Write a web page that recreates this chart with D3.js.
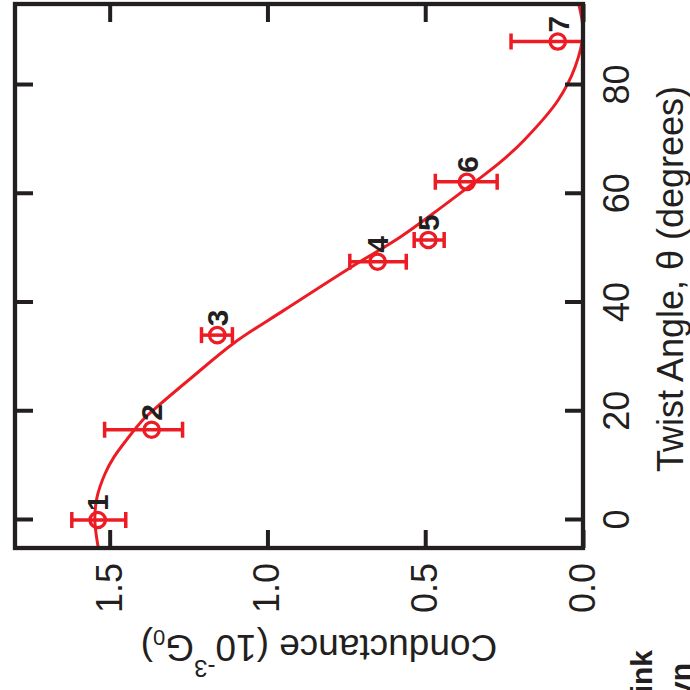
<!DOCTYPE html>
<html>
<head>
<meta charset="utf-8">
<script src="https://cdn.jsdelivr.net/npm/d3@7"></script>
<style>
  body { margin: 0; background: #fff; }
  text { font-family: "Liberation Sans", Arial, sans-serif; }
</style>
</head>
<body>
<div id="chart"></div>
<script>
const red = "#ed1c24";
const ink = "#231f20";

// junctions 1..7
const labels = ["1", "2", "3", "4", "5", "6", "7"];
const angles = [0, 16.6, 34.0, 47.5, 51.5, 62.2, 88.0];
const conductance = [1.538, 1.367, 1.159, 0.651, 0.490, 0.368, 0.080];
const upper = [1.620, 1.516, 1.209, 0.739, 0.535, 0.468, 0.228];
const lower = [1.449, 1.269, 1.111, 0.560, 0.440, 0.272, -0.070];

// fit line
const fitAngle = [-5.15, 0, 4.2, 8.6, 11.6, 14.7, 18.4, 20.8, 26.3, 32.6, 38.6, 46.5, 52, 57.4, 62.5, 65.8, 69.9, 77.2, 83.3, 89.6, 95];
const fitG = [1.536, 1.547, 1.540, 1.514, 1.486, 1.447, 1.395, 1.350, 1.238, 1.105, 0.947, 0.735, 0.580, 0.451, 0.335, 0.262, 0.186, 0.079, 0.025, 0.0, 0.014];

const angleTicks = [0, 20, 40, 60, 80];
const gTicks = [0, 0.5, 1.0, 1.5];

const W = 544, H = 568;

const svg = d3.select("#chart").append("svg")
  .attr("width", 690)
  .attr("height", 690);

// the whole plot is drawn upright and then turned a quarter turn
const g = svg.append("g")
  .attr("transform", "translate(15,548) rotate(-90)");

const x = d3.scaleLinear().domain([-5.15, 94.9]).range([0, W]);
const y = d3.scaleLinear().domain([0, 1.8]).range([H, 0]);

g.append("clipPath").attr("id", "clip")
  .append("rect").attr("width", W).attr("height", H);

const line = d3.line()
  .x(d => x(d[0]))
  .y(d => y(d[1]))
  .curve(d3.curveCatmullRom);

g.append("path")
  .datum(d3.zip(fitAngle, fitG))
  .attr("clip-path", "url(#clip)")
  .attr("fill", "none")
  .attr("stroke", red)
  .attr("stroke-width", 3)
  .attr("d", line);

const pts = labels.map((l, i) => ({l, a: angles[i], g: conductance[i], hi: upper[i], lo: lower[i]}));

const bars = g.append("g").attr("clip-path", "url(#clip)")
  .attr("stroke", red).attr("stroke-width", 3.5);

bars.selectAll(".bar").data(pts).join("line")
  .attr("x1", d => x(d.a)).attr("x2", d => x(d.a))
  .attr("y1", d => y(d.hi)).attr("y2", d => y(d.lo));

bars.selectAll(".capHi").data(pts).join("line")
  .attr("x1", d => x(d.a) - 8).attr("x2", d => x(d.a) + 8)
  .attr("y1", d => y(d.hi)).attr("y2", d => y(d.hi));

bars.selectAll(".capLo").data(pts).join("line")
  .attr("x1", d => x(d.a) - 8).attr("x2", d => x(d.a) + 8)
  .attr("y1", d => y(d.lo)).attr("y2", d => y(d.lo));

g.append("g").selectAll("circle").data(pts).join("circle")
  .attr("cx", d => x(d.a))
  .attr("cy", d => y(d.g))
  .attr("r", 7.7)
  .attr("fill", "none")
  .attr("stroke", red)
  .attr("stroke-width", 3.3);

g.append("g").selectAll("text").data(pts).join("text")
  .attr("x", d => x(d.a) + 9)
  .attr("y", d => y(d.g))
  .attr("dy", "0.36em")
  .attr("fill", ink)
  .attr("font-size", 30)
  .attr("font-weight", "bold")
  .text(d => d.l);

const styleAxis = sel => {
  sel.select(".domain").remove();
  sel.selectAll(".tick line").attr("stroke", ink).attr("stroke-width", 4);
  sel.selectAll(".tick text").attr("fill", ink).attr("font-size", 36)
    .attr("font-family", "Liberation Sans, Arial, sans-serif");
};

g.append("g").attr("transform", `translate(0,${H})`)
  .call(d3.axisBottom(x).tickValues(angleTicks).tickSizeInner(-18).tickSizeOuter(0).tickPadding(20))
  .call(styleAxis);

g.append("g")
  .call(d3.axisTop(x).tickValues(angleTicks).tickSizeInner(-18).tickSizeOuter(0).tickFormat(""))
  .call(styleAxis);

g.append("g")
  .call(d3.axisLeft(y).tickValues(gTicks).tickFormat(d3.format(".1f")).tickSizeInner(-18).tickSizeOuter(0).tickPadding(15))
  .call(styleAxis);

g.append("g").attr("transform", `translate(${W},0)`)
  .call(d3.axisRight(y).tickValues(gTicks).tickSizeInner(-18).tickSizeOuter(0).tickFormat(""))
  .call(styleAxis);

g.append("rect")
  .attr("width", W).attr("height", H)
  .attr("fill", "none")
  .attr("stroke", ink)
  .attr("stroke-width", 4.3);

g.append("text")
  .attr("x", 269).attr("y", 668)
  .attr("text-anchor", "middle")
  .attr("font-size", 36)
  .attr("fill", ink)
  .text("Twist Angle, \u03b8 (degrees)");

const yt = g.append("text")
  .attr("transform", "translate(-87,304) rotate(-90)")
  .attr("text-anchor", "middle")
  .attr("font-size", 37)
  .attr("fill", ink);
yt.append("tspan").text("Conductance (10");
yt.append("tspan").attr("font-size", 24).attr("dy", -25).text("-3");
yt.append("tspan").attr("dy", 25).text("G");
yt.append("tspan").attr("font-size", 22).attr("dy", 5).text("0");
yt.append("tspan").attr("dy", -5).text(")");

// bits of the neighbouring panel that show at the corner
svg.append("text")
  .attr("transform", "translate(652,650) rotate(-90)")
  .attr("text-anchor", "end")
  .attr("font-size", 30).attr("font-weight", "bold").attr("fill", ink)
  .text("ink");
svg.append("text")
  .attr("transform", "translate(691,663) rotate(-90)")
  .attr("text-anchor", "end")
  .attr("font-size", 30).attr("font-weight", "bold").attr("fill", ink)
  .text("yn");
</script>
</body>
</html>
